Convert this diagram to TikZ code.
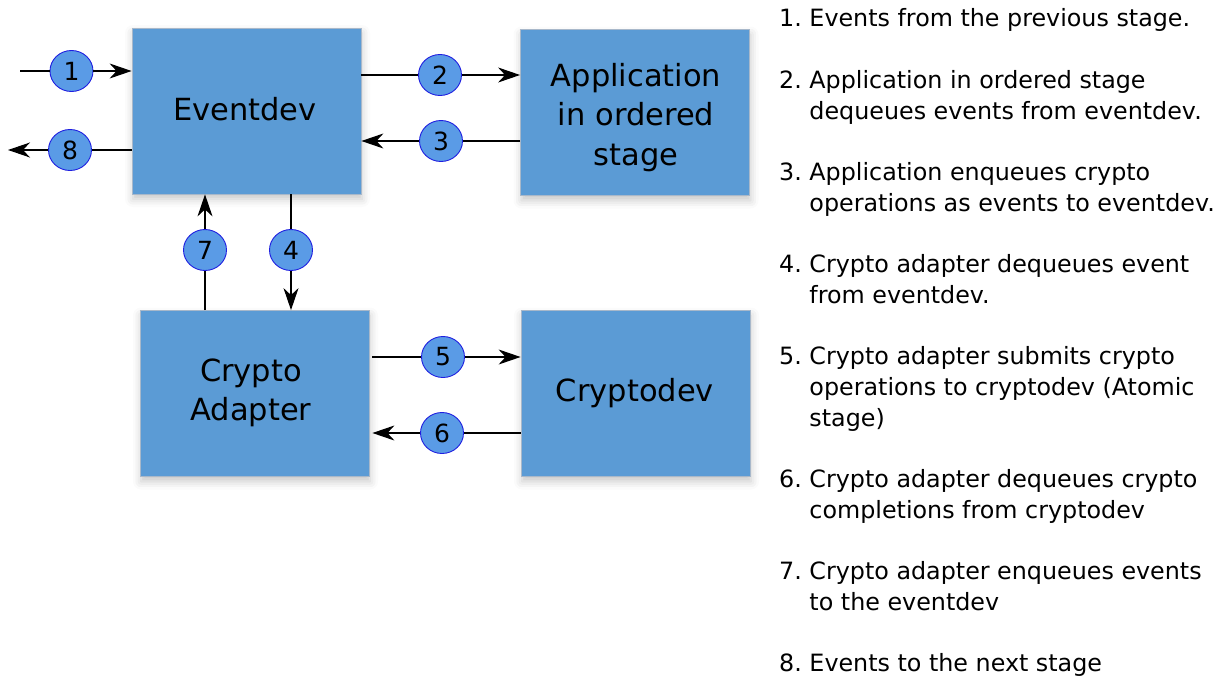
\documentclass[tikz,border=0pt]{standalone}
\usepackage{fontspec}
\setmainfont{DejaVu Sans}
\usetikzlibrary{arrows.meta,shapes.geometric,shadows.blur}
\definecolor{boxblue}{HTML}{5B9BD5}
\definecolor{boxedge}{HTML}{A8B8CA}
\definecolor{circfill}{HTML}{5A9BE6}
\definecolor{circedge}{HTML}{1F1FE0}
\tikzset{
  blockbox/.style={draw=boxedge, line width=0.8pt, fill=boxblue, minimum width=229pt, minimum height=166pt, inner sep=0pt,
    blur shadow={shadow xshift=1pt, shadow yshift=-5pt, shadow blur radius=8pt, shadow opacity=22}},
  boxtext/.style={align=center, inner sep=0pt, font=\fontsize{30.5}{39.5}\selectfont},
  numcirc/.style={ellipse, draw=circedge, line width=0.9pt, fill=circfill, minimum width=43pt, minimum height=41pt, inner sep=0pt,
    font=\fontsize{25}{28}\selectfont},
  conn/.style={line width=1.1pt, draw=black},
  arr/.style={conn, -{Stealth[length=22pt, width=15pt, inset=7pt]}},
  listitem/.style={anchor=base west, inner sep=0pt, font=\fontsize{23.8}{30.7}\selectfont},
}
\begin{document}
\begin{tikzpicture}[x=1pt,y=-1pt]
\useasboundingbox (0,0) rectangle (1223,677);
% boxes
\node[blockbox] (ev)  at (246.5,111) {};
\node[blockbox] (app) at (635,112.5) {};
\node[blockbox] (ca)  at (254.5,393.5) {};
\node[blockbox] (cd)  at (635.5,393.5) {};
\node[boxtext] (evt)  at (245,109) {Eventdev};
\node[boxtext] (appt) at (636,117.5) {Application\\in ordered\\stage};
\node[boxtext] (cat)  at (251,393) {Crypto\\Adapter};
\node[boxtext] (cdt)  at (635,393) {Cryptodev};
% number circles
\node[numcirc] (c1) at (71.5,71) {1};
\node[numcirc] (c8) at (70,150) {8};
\node[numcirc] (c2) at (440,75) {2};
\node[numcirc] (c3) at (441,141) {3};
\node[numcirc] (c7) at (205,250) {7};
\node[numcirc] (c4) at (291,250) {4};
\node[numcirc] (c5) at (443,357) {5};
\node[numcirc] (c6) at (442,433) {6};
% free ends
\coordinate (in1) at (20,71);
\coordinate (out8) at (8,150);
% connectors
\draw[conn] (in1) -- (c1);
\draw[arr] (c1) -- (ev.west |- c1);
\draw[conn] (ev.west |- c8) -- (c8);
\draw[arr] (c8) -- (out8);
\draw[conn] (ev.east |- c2) -- (c2);
\draw[arr] (c2) -- (app.west |- c2);
\draw[conn] (app.west |- c3) -- (c3);
\draw[arr] (c3) -- (ev.east |- c3);
\draw[conn] (ca.north -| c7) -- (c7);
\draw[arr] (c7) -- (ev.south -| c7);
\draw[conn] (ev.south -| c4) -- (c4);
\draw[arr] (c4) -- (ca.north -| c4);
\draw[conn] ([xshift=3pt]ca.east |- c5) -- (c5);
\draw[arr] (c5) -- (cd.west |- c5);
\draw[conn] (cd.west |- c6) -- (c6);
\draw[arr] (c6) -- ([xshift=3pt]ca.east |- c6);
% legend
\node[listitem] (l1) at (779,27) {1.~\parbox[t]{400pt}{Events from the previous stage.}};
\node[listitem] (l2) at (779,88.4) {2.~\parbox[t]{400pt}{\baselineskip=30.7pt Application in ordered stage\\dequeues events from eventdev.}};
\node[listitem] (l3) at (779,180.5) {3.~\parbox[t]{420pt}{\baselineskip=30.7pt Application enqueues crypto\\operations as events to eventdev.}};
\node[listitem] (l4) at (779,272.6) {4.~\parbox[t]{400pt}{\baselineskip=30.7pt Crypto adapter dequeues event\\from eventdev.}};
\node[listitem] (l5) at (779,364.7) {5.~\parbox[t]{400pt}{\baselineskip=30.7pt Crypto adapter submits crypto\\operations to cryptodev (Atomic\\stage)}};
\node[listitem] (l6) at (779,487.5) {6.~\parbox[t]{400pt}{\baselineskip=30.7pt Crypto adapter dequeues crypto\\completions from cryptodev}};
\node[listitem] (l7) at (779,579.6) {7.~\parbox[t]{400pt}{\baselineskip=30.7pt Crypto adapter enqueues events\\to the eventdev}};
\node[listitem] (l8) at (779,671.7) {8.~\parbox[t]{400pt}{Events to the next stage}};
\end{tikzpicture}
\end{document}
